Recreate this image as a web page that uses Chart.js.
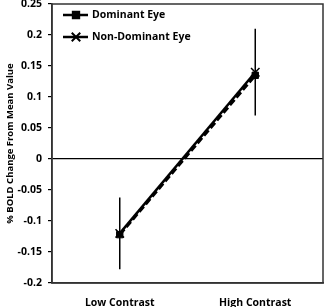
<!DOCTYPE html>
<html>
<head>
<meta charset="utf-8">
<script src="https://cdn.jsdelivr.net/npm/chart.js@4"></script>
<style>
  html, body { margin: 0; padding: 0; background: #fff; }
  #wrap { width: 325px; height: 307px; }
</style>
</head>
<body>
<div id="wrap"><canvas id="c" width="325" height="307"></canvas></div>
<script>
const categories = ['Low Contrast', 'High Contrast'];
const dominant = [-0.122, 0.135];
const nonDominant = [-0.12, 0.14];
const nonDominantErr = [0.058, 0.07];
const yTicks = [-0.2, -0.15, -0.1, -0.05, 0, 0.05, 0.1, 0.15, 0.2, 0.25];

const font = "'Open Sans', 'Liberation Sans', sans-serif";

// error bars + frame + legend
const extras = {
    id: 'extras',
    afterDatasetsDraw(chart) {
        const ctx = chart.ctx;
        const x = chart.scales.x, y = chart.scales.y;
        const a = chart.chartArea;
        ctx.save();
        ctx.strokeStyle = '#000';
        ctx.lineWidth = 1.5;
        nonDominant.forEach((v, i) => {
            const px = x.getPixelForValue(i);
            ctx.beginPath();
            ctx.moveTo(px, y.getPixelForValue(v + nonDominantErr[i]));
            ctx.lineTo(px, y.getPixelForValue(v - nonDominantErr[i]));
            ctx.stroke();
        });
        // frame
        ctx.strokeStyle = '#333';
        ctx.lineWidth = 1.5;
        ctx.strokeRect(a.left, a.top, a.right - a.left, a.bottom - a.top);

        // legend
        const items = [
            { label: 'Dominant Eye', ds: 0 },
            { label: 'Non-Dominant Eye', ds: 1 }
        ];
        ctx.font = 'bold 10.5px ' + font;
        ctx.textBaseline = 'middle';
        ctx.fillStyle = '#000';
        items.forEach((it, k) => {
            const ly = 15 + k * 22;
            const ds = chart.data.datasets[it.ds];
            ctx.strokeStyle = '#000';
            ctx.lineWidth = 2.5;
            ctx.setLineDash([]);
            ctx.beginPath();
            ctx.moveTo(63, ly);
            ctx.lineTo(88, ly);
            ctx.stroke();
            ctx.lineWidth = 2;
            Chart.helpers.drawPoint(ctx, {
                pointStyle: ds.pointStyle, radius: ds.pointRadius,
                borderWidth: 2
            }, 76, ly);
            ctx.fillText(it.label, 92, ly);
        });
        ctx.restore();
    }
};

new Chart(document.getElementById('c'), {
    type: 'line',
    data: {
        labels: categories,
        datasets: [{
            label: 'Dominant Eye',
            data: dominant,
            borderColor: '#000',
            backgroundColor: '#000',
            borderWidth: 3,
            borderDash: [7, 3],
            pointStyle: 'rect',
            pointRadius: 4.5,
            pointBorderWidth: 1,
            tension: 0
        }, {
            label: 'Non-Dominant Eye',
            data: nonDominant,
            borderColor: '#000',
            backgroundColor: '#000',
            borderWidth: 2.5,
            pointStyle: 'crossRot',
            pointRadius: 6,
            pointBorderWidth: 1.5,
            tension: 0
        }]
    },
    options: {
        responsive: false,
        animation: false,
        layout: { autoPadding: false, padding: { top: 4, right: 2, left: 0, bottom: 0 } },
        plugins: {
            legend: { display: false },
            tooltip: { enabled: false }
        },
        scales: {
            x: {
                offset: true,
                grid: { display: false, tickLength: 0 },
                border: { display: true, color: '#333', width: 1.5 },
                ticks: {
                    color: '#000',
                    font: { family: font, weight: 'bold', size: 10.5 },
                    padding: 14,
                    maxRotation: 0
                },
                afterFit(s) { s.height = 24; }
            },
            y: {
                min: -0.2,
                max: 0.25,
                afterBuildTicks(s) { s.ticks = yTicks.map(v => ({ value: v })); },
                grid: {
                    color: c => (c.tick && c.tick.value === 0) ? '#000' : 'rgba(0,0,0,0)',
                    lineWidth: 1.2,
                    tickColor: '#000',
                    tickLength: 4,
                    drawOnChartArea: true
                },
                border: { display: true, color: '#333', width: 1.5 },
                title: {
                    display: true,
                    text: '% BOLD Change From Mean Value',
                    color: '#000',
                    font: { family: font, weight: 'bold', size: 9.5 },
                    padding: { top: 5, bottom: 2 }
                },
                ticks: {
                    color: '#000',
                    font: { family: font, weight: 'bold', size: 10.5 },
                    padding: 6,
                    callback: v => String(parseFloat(Number(v).toFixed(2)))
                },
                afterFit(s) { s.width = 52; s.paddingTop = 0; s.paddingBottom = 0; }
            }
        }
    },
    plugins: [extras]
});
</script>
</body>
</html>
